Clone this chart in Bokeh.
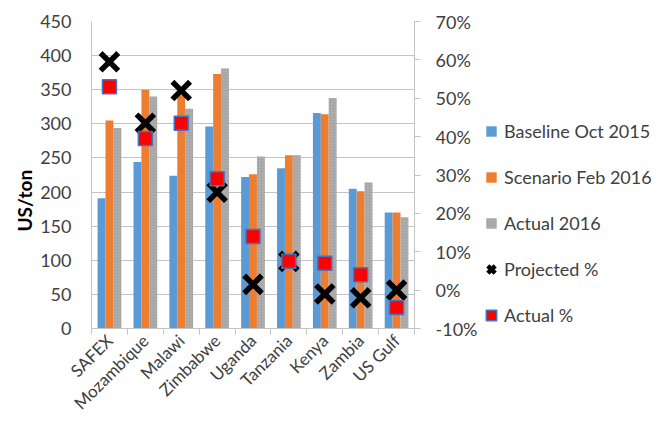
import math
from bokeh.plotting import figure
from bokeh.layouts import row
from bokeh.models import (ColumnDataSource, Range1d, LinearAxis, FixedTicker,
                          PrintfTickFormatter, Legend, LegendItem, Title)
from bokeh.transform import dodge
from bokeh.embed import file_html
from bokeh.resources import INLINE

# ---- data ----
categories = ["SAFEX", "Mozambique", "Malawi", "Zimbabwe", "Uganda",
              "Tanzania", "Kenya", "Zambia", "US Gulf"]
baseline_oct_2015 = [191, 244, 224, 296, 222, 235, 316, 205, 170]
scenario_feb_2016 = [305, 350, 342, 373, 226, 254, 314, 201, 170]
actual_2016 = [294, 340, 322, 381, 252, 254, 338, 214, 163]
projected_pct = [59.5, 43.5, 52.0, 25.5, 1.5, 7.5, -1.0, -2.0, 0.0]
actual_pct = [53.0, 39.5, 43.5, 29.0, 14.0, 7.5, 7.0, 4.0, -4.5]
left_ticks = [0, 50, 100, 150, 200, 250, 300, 350, 400, 450]
right_ticks = [-10, 0, 10, 20, 30, 40, 50, 60, 70]
series_names = ["Baseline Oct 2015", "Scenario Feb 2016", "Actual 2016",
                "Projected %", "Actual %"]

FONT = "Lato"
TXT = "#404040"
GRID = "#C4C4C4"
BLUE, ORANGE, GRAY = "#5B9BD5", "#ED7D31", "#A5A5A5"
FS = "18px"

pos = [i + 1 for i in range(len(categories))]
src = ColumnDataSource(dict(x=pos, cat=categories, base=baseline_oct_2015,
                            scen=scenario_feb_2016, act=actual_2016,
                            ppct=projected_pct, apct=actual_pct))

p = figure(width=480, height=423, output_backend="svg", toolbar_location=None,
           x_range=Range1d(0.5, len(categories) + 0.5),
           y_range=Range1d(left_ticks[0], left_ticks[-1]),
           min_border_left=91, min_border_right=66, min_border_top=21,
           min_border_bottom=93)
p.extra_y_ranges = {"pct": Range1d(right_ticks[0], right_ticks[-1])}
p.outline_line_color = None

bw = 0.22
hatch = dict(hatch_pattern="dot", hatch_color="#BEBEBE", hatch_scale=3, hatch_weight=1)
p.vbar(x=dodge("x", -bw, range=p.x_range), top="base", width=bw, bottom=0,
       source=src, fill_color=BLUE, line_color=None)
p.vbar(x=dodge("x", 0, range=p.x_range), top="scen", width=bw, bottom=0,
       source=src, fill_color=ORANGE, line_color=None)
p.vbar(x=dodge("x", bw, range=p.x_range), top="act", width=bw, bottom=0,
       source=src, fill_color=GRAY, line_color=None, **hatch)
p.scatter(x="x", y="ppct", y_range_name="pct", source=src, marker="x",
          size=25, line_width=5.5, line_color="black")
p.scatter(x="x", y="apct", y_range_name="pct", source=src, marker="square",
          size=14, fill_color="#FF0000", line_color="#4472C4", line_width=1.5)

# x axis: labels at category centres, ticks at category boundaries
p.xaxis.ticker = FixedTicker(ticks=pos, minor_ticks=[i + 0.5 for i in range(len(categories) + 1)])
p.xaxis.major_label_overrides = {x: c for x, c in zip(pos, categories)}
p.xaxis.major_label_orientation = math.pi / 4
p.xaxis.major_label_standoff = 3
p.xaxis.major_label_text_font = FONT
p.xaxis.major_label_text_font_size = "17px"
p.xaxis.major_label_text_color = TXT
p.xaxis.axis_line_color = GRID
p.xaxis.minor_tick_line_color = GRID
p.xaxis.minor_tick_out = 6
p.xaxis.minor_tick_in = 0
p.xaxis.major_tick_line_color = None

p.yaxis.ticker = FixedTicker(ticks=left_ticks)
p.yaxis.axis_line_color = GRID
p.yaxis.major_tick_line_color = None
p.yaxis.minor_tick_line_color = None
p.yaxis.major_label_standoff = 14
p.yaxis.major_label_text_font = FONT
p.yaxis.major_label_text_font_size = FS
p.yaxis.major_label_text_color = TXT

ax2 = LinearAxis(y_range_name="pct", ticker=FixedTicker(ticks=right_ticks),
                 formatter=PrintfTickFormatter(format="%d%%"))
ax2.axis_line_color = GRID
ax2.major_tick_line_color = GRID
ax2.major_tick_out = 6
ax2.major_tick_in = 0
ax2.minor_tick_line_color = None
ax2.major_label_standoff = 15
ax2.major_label_text_font = FONT
ax2.major_label_text_font_size = FS
ax2.major_label_text_color = TXT
p.add_layout(ax2, "right")

p.xgrid.grid_line_color = None
p.ygrid.ticker = FixedTicker(ticks=left_ticks)
p.ygrid.grid_line_color = GRID

p.add_layout(Title(text="US/ton", align="left", offset=97, standoff=4, text_font=FONT,
                   text_font_size="19px", text_font_style="bold", text_color="black"), "left")

# ---- legend panel (separate figure so nothing is clipped) ----
q = figure(width=180, height=423, output_backend="svg", toolbar_location=None,
           x_range=Range1d(0, 1), y_range=Range1d(0, 1),
           x_axis_location=None, y_axis_location=None, min_border=0)
q.outline_line_color = None
q.grid.grid_line_color = None
nan = [float("nan")]
lg = [q.scatter(x=nan, y=nan, marker="square", fill_color=BLUE, line_color=None),
      q.scatter(x=nan, y=nan, marker="square", fill_color=ORANGE, line_color=None),
      q.scatter(x=nan, y=nan, marker="square", fill_color=GRAY, line_color=None, **hatch),
      q.scatter(x=nan, y=nan, marker="x", line_color="black", line_width=4.5),
      q.scatter(x=nan, y=nan, marker="square", fill_color="#FF0000",
                line_color="#4472C4", line_width=1.5)]
legend = Legend(items=[LegendItem(label=n, renderers=[r]) for n, r in zip(series_names, lg)],
                location=(-2, 0), glyph_width=26, glyph_height=26, label_height=26,
                spacing=20, label_standoff=0, padding=0, margin=0,
                border_line_color=None, background_fill_alpha=0,
                label_text_font=FONT, label_text_font_size=FS, label_text_color=TXT)
q.add_layout(legend)

open("out.html", "w").write(file_html(row(p, q), INLINE))
